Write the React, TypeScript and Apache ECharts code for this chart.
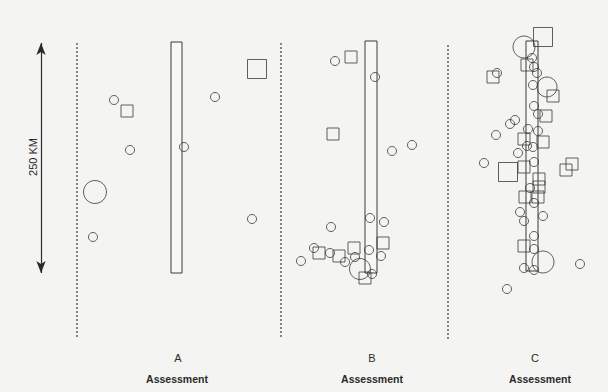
import React, { useEffect, useRef } from "react";
import * as echarts from "echarts";

// Panel titles and captions
const panelLabels = ["A", "B", "C"];
const panelLabelX = [178, 372, 535];
const captionX = [177, 372, 540];
const caption = "Assessment";
const scaleLabel = "250 KM";

// Dotted boundary lines: [x, yTop, yBottom]
const boundaries = [
  [77, 43, 337],
  [281, 43, 337],
  [448, 45, 340],
];

// Fault/zone bars: [x0, x1, yTop, yBottom]
const zoneBars = [
  [171, 182, 42, 273],
  [365, 377, 41, 273],
  [526, 538, 41, 271],
];

// Scale arrow: [x, yTop, yBottom] (250 km)
const scaleArrow = [41, 43, 273];

// Circles / squares: [x, y, size]
const circlesA = [
  [114, 100, 9], [130, 150, 9], [184, 147, 9], [215, 97, 9],
  [95, 192, 23], [93, 237, 9], [252, 219, 9],
];
const squaresA = [
  [127, 111, 12], [257, 69, 19],
];

const circlesB = [
  [335, 61, 9], [375, 77, 9], [392, 151, 9], [412, 145, 9],
  [370, 218, 9], [384, 222, 9], [331, 227, 9], [314, 248, 9],
  [330, 253, 9], [369, 250, 9], [355, 257, 9], [381, 256, 9],
  [345, 262, 9], [301, 261, 9], [360, 269, 21], [372, 274, 9],
];
const squaresB = [
  [351, 57, 12], [333, 134, 12], [383, 243, 12], [354, 248, 12],
  [319, 253, 12], [339, 256, 12], [365, 278, 12],
];

const circlesC = [
  [524, 47, 22], [534, 67, 9], [537, 73, 9], [497, 73, 9],
  [533, 85, 9], [547, 87, 20], [534, 106, 9], [538, 114, 9],
  [510, 124, 9], [515, 120, 9], [496, 135, 9], [528, 129, 9],
  [538, 131, 9], [527, 146, 9], [533, 147, 9], [518, 153, 9],
  [484, 163, 9], [534, 162, 9], [530, 188, 9], [534, 203, 9],
  [520, 212, 9], [524, 221, 9], [543, 216, 9], [534, 236, 9],
  [534, 249, 9], [543, 262, 22], [524, 268, 9], [534, 270, 9],
  [580, 264, 9], [507, 289, 9], [532, 58, 9],
];
const squaresC = [
  [543, 37, 19], [527, 65, 12], [493, 77, 12], [553, 96, 12],
  [546, 116, 12], [524, 139, 12], [543, 142, 12], [508, 172, 19],
  [524, 167, 12], [572, 164, 12], [566, 170, 12], [539, 179, 12],
  [539, 187, 12], [525, 197, 12], [538, 197, 12], [524, 246, 12],
];

const INK = "#3a3a3a";

export default function App() {
  const ref = useRef<HTMLDivElement>(null);

  useEffect(() => {
    if (!ref.current) return;
    const chart = echarts.init(ref.current, undefined, { renderer: "svg" });

    const markerSeries = (data: number[][], symbol: string) => ({
      type: "scatter",
      data,
      symbol,
      symbolSize: (v: number[]) => v[2],
      itemStyle: { color: "rgba(0,0,0,0)", borderColor: INK, borderWidth: 1 },
      silent: true,
      z: 4,
    });

    const series: any[] = [];

    boundaries.forEach((b) => {
      series.push({
        type: "line",
        data: [[b[0], b[1]], [b[0], b[2]]],
        symbol: "none",
        lineStyle: { color: INK, width: 1.2, type: [2, 2] },
        silent: true,
        z: 2,
      });
    });

    series.push({
      type: "custom",
      data: zoneBars,
      encode: { x: [0, 1], y: [2, 3] },
      renderItem: (params: any, api: any) => {
        const p0 = api.coord([api.value(0), api.value(2)]);
        const p1 = api.coord([api.value(1), api.value(3)]);
        return {
          type: "rect",
          shape: { x: p0[0], y: p0[1], width: p1[0] - p0[0], height: p1[1] - p0[1] },
          style: { fill: "rgba(255,255,255,0.3)", stroke: INK, lineWidth: 1 },
        };
      },
      silent: true,
      z: 3,
    });

    series.push({
      type: "line",
      data: [],
      silent: true,
      markLine: {
        silent: true,
        symbol: ["arrow", "arrow"],
        symbolSize: [7, 12],
        label: { show: false },
        lineStyle: { color: "#2a2a2a", width: 1.2, type: "solid" },
        data: [[{ coord: [scaleArrow[0], scaleArrow[1]] }, { coord: [scaleArrow[0], scaleArrow[2]] }]],
      },
    });

    series.push(markerSeries(circlesA, "circle"));
    series.push(markerSeries(squaresA, "rect"));
    series.push(markerSeries(circlesB, "circle"));
    series.push(markerSeries(squaresB, "rect"));
    series.push(markerSeries(circlesC, "circle"));
    series.push(markerSeries(squaresC, "rect"));

    const texts: any[] = [];
    panelLabels.forEach((l, i) => {
      texts.push({
        type: "text",
        x: panelLabelX[i],
        y: 358,
        style: {
          text: l,
          fill: "#2a2a2a",
          font: "11px 'Liberation Sans', Arial, sans-serif",
          align: "center",
          verticalAlign: "middle",
        },
      });
      texts.push({
        type: "text",
        x: captionX[i],
        y: 379,
        style: {
          text: caption,
          fill: "#2a2a2a",
          font: "bold 10.5px 'Liberation Sans', Arial, sans-serif",
          align: "center",
          verticalAlign: "middle",
        },
      });
    });
    texts.push({
      type: "text",
      x: 33,
      y: 157,
      rotation: Math.PI / 2,
      style: {
        text: scaleLabel,
        fill: "#2a2a2a",
        font: "11px 'Liberation Sans', Arial, sans-serif",
        align: "center",
        verticalAlign: "middle",
      },
    });

    chart.setOption({
      animation: false,
      backgroundColor: "#f4f4f2",
      grid: { left: 0, right: 0, top: 0, bottom: 0 },
      xAxis: { type: "value", min: 0, max: 608, show: false },
      yAxis: { type: "value", min: 0, max: 392, inverse: true, show: false },
      series,
      graphic: texts,
    });

    return () => chart.dispose();
  }, []);

  return (
    <div
      ref={ref}
      style={{ position: "fixed", left: 0, top: 0, width: 608, height: 392 }}
    />
  );
}
